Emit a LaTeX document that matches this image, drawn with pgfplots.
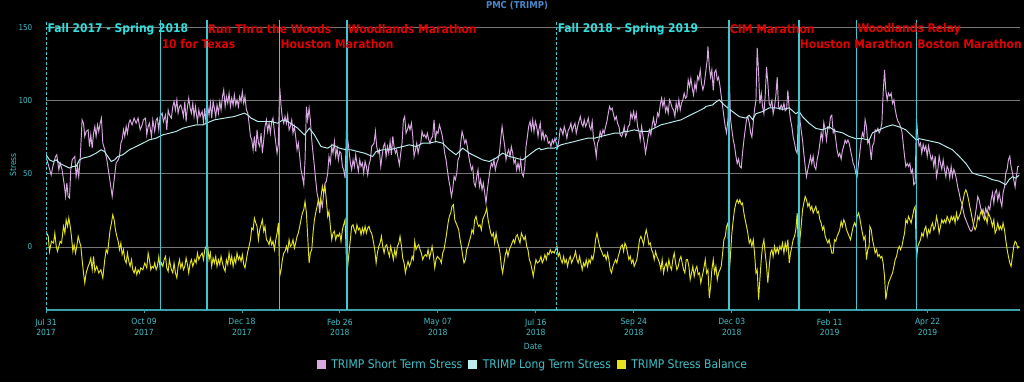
\documentclass[border=0pt]{standalone}
\usepackage{fontspec}
\setmainfont{DejaVu Sans Condensed}[BoldFont={DejaVu Sans Condensed Bold}]
\usepackage{pgfplots}
\pgfplotsset{compat=1.18}
\usetikzlibrary{backgrounds}
\definecolor{sts}{HTML}{D8A8E0}
\definecolor{lts}{HTML}{BCEEF0}
\definecolor{tsb}{HTML}{E2E21E}
\definecolor{vline}{HTML}{40C8D0}
\definecolor{ticktxt}{HTML}{40C0C8}
\definecolor{gridc}{HTML}{767676}
\definecolor{racered}{HTML}{E00000}
\definecolor{seasoncyan}{HTML}{30E0E0}
\definecolor{titleblue}{HTML}{4A88C8}

\pgfplotstableread{
x y
0 61.8
3.7 49.3
4.9 55
6.8 61.8
7.7 63
9.2 52.7
10.1 57.3
11.5 52.7
13.2 41.4
14 34.5
14.9 43.6
15.8 34.5
16.8 33.4
17.7 52.7
18.7 59.5
19.6 60.7
20.6 61.8
21.5 48.2
22.5 55
23.4 48.2
24.4 59.5
25.8 86.8
26.8 84.5
27.7 75.5
28.7 78.9
30.1 80
31.1 68.6
32 76.6
33 67.5
34 77.7
34.9 82.3
35.8 75.5
36.8 83.4
37.7 78.9
38.7 84.5
39.6 88
40.6 70.9
42 66.4
43.5 59.5
44.9 50.5
46.3 41.4
47.3 34.5
48.7 45.9
50.1 57.3
51.6 59.5
52.5 61.8
53.5 70.9
54.4 73.2
55.4 80
56.3 75.5
57.3 82.3
58.2 77.7
59.2 84.5
60.1 86.8
61.5 83.4
63 88
64.4 84.5
65.8 88
67.3 80
68.7 83.4
69.6 86.8
71.1 88
72 76.6
73 82.3
73.9 84.5
75.4 75.5
76.3 86.8
77.7 78.9
78.7 86.8
79.6 88
80.6 80
81.5 89.1
83 91.4
83.9 85.7
85.4 90.2
86.3 80
87.3 93.6
88.2 90.2
89.6 88
90.6 95.9
91.5 99.3
92.5 93.6
93.5 100.5
94.4 91.4
95.4 95.9
96.3 97
97.3 93.6
98.2 89.1
99.2 99.3
100.1 85.7
101.1 95.9
102 101.6
103 94.8
103.9 91.4
104.9 98.2
105.8 89.1
106.8 95.9
108.2 85.7
109.2 93.6
110.1 89.1
111.6 92.5
112.5 85.7
113.5 94.8
114.4 83.4
115.6 95.9
116.5 90.2
117.5 98.2
118.4 88
119.4 99.3
120.3 94.8
121.3 89.1
122.2 97
123.2 91.4
124.2 99.3
125.1 93.6
126.1 102.7
127 107.3
128 95.9
128.9 102.7
129.9 98.2
130.8 105
131.8 95.9
132.7 101.6
133.7 97
134.6 103.9
135.6 97
136.5 100.5
137.5 95.9
138.4 102.7
139.4 99.3
140.3 106.1
141.3 98.2
142.2 102.7
143.2 93.6
144.2 91.4
145.1 84.5
146.1 75.5
147 73.2
148 66.4
148.9 75.5
149.9 65.2
150.8 80
151.8 70.9
152.7 68.6
153.7 77.7
154.6 64.1
155.6 73.2
156.5 82.3
157.5 86.8
158.4 78.9
159.4 84.5
160.3 77.7
161.3 85.7
162.2 88
163.2 78.9
164.2 70.9
165.1 64.1
166 70
167 109
168 95.9
168.9 88
169.9 84.5
170.8 89.1
171.8 84.5
172.7 90.2
173.7 80
174.6 82.3
175.6 86.8
176.5 77.7
177.5 82.3
178.4 75.5
179.4 66.4
180.3 70.9
181.3 61.8
182.2 52.7
183.2 48.2
184.2 42.5
185.1 59.5
186.1 95.9
187 86.8
188 94.8
188.9 86.8
189.9 73.2
190.8 64.1
191.8 55
192.7 45.9
193.7 36.8
194.6 32.3
195.6 23.2
196.5 32.3
197.5 27.7
198.4 36.8
199.4 43.6
200.3 44.8
201.3 50.5
202.2 61.8
203.2 57.3
204.2 68.6
205.1 64.1
206.1 72
207 61.8
208 67.5
208.9 59.5
209.9 65.2
210.8 64.1
211.8 55
212.7 52.7
213.7 47
215 89
215.6 73.2
216.5 66.4
217.5 57.3
218.4 52.7
219.4 59.5
220.3 55
221.3 63
222.2 57.3
223.2 51.6
224.2 59.5
225.1 55
226.1 57.3
227 50.5
228 58.4
228.9 55
229.9 49.3
230.8 56.1
231.8 59.5
232.7 68.6
234.4 70.9
235.4 78.9
236.3 68.6
237.3 64.1
238.2 66.4
239.2 55
240.1 61.8
241.1 68.6
242.1 70.9
243 61.8
244 68.6
244.9 64.1
245.9 72
246.8 63
247.8 75.5
248.7 68.6
249.7 64.1
250.6 66.4
251.6 60.7
252.5 56.1
253.5 64.1
254.4 70.9
255.4 86.8
256.3 89.1
257.3 77.7
258.2 80
259.2 83.4
260.1 80
261.1 84.5
262.1 75.5
263 61.8
264 66.4
264.9 70.9
265.9 64.1
266.8 68.6
267.8 70.9
268.7 78.9
269.7 75.5
270.6 76.6
271.6 74.3
272.5 77.7
273.5 73.2
274.4 70.9
275.4 74.3
276.3 75.5
277.3 86.8
278.2 73.2
279.2 78.9
280.1 77.7
281.1 83.4
282.1 80
283 76.6
284 70.9
284.9 64.1
285.9 59.5
286.8 52.7
287.8 45.9
288.7 41.4
289.7 34.5
290.6 39.1
291.6 48.2
292.5 45.9
293.5 50.5
294.4 59.5
295.4 61.8
296.3 70.9
297.3 78.9
298.2 75.5
299.2 70.9
300.1 73.2
301.1 68.6
302.1 61.8
303 57.3
304 52.7
304.9 55
305.9 43.6
306.8 41.4
307.8 48.2
308.7 52.7
309.7 41.4
310.6 45.9
311.6 39.1
312.5 43.6
313.5 36.8
314.4 30
315.4 39.1
316.3 45.9
317.3 52.7
318.2 57.3
319.2 55
320.1 59.5
321.1 52.7
322.1 57.3
323 59.5
324 64.1
324.9 73.2
325.9 82.3
326.8 75.5
327.8 68.6
328.7 59.5
329.7 64.1
330.6 66.4
331.6 61.8
332.5 68.6
333.5 64.1
334.4 57.3
335.4 59.5
336.3 52.7
337.3 57.3
338.2 52.7
339.2 59.5
340.1 50.5
341.1 48.2
342.1 55
343 68.6
344 75.5
344.9 82.3
345.9 85.7
346.8 80
347.8 86.8
348.7 78.9
349.7 85.7
350.6 82.3
351.6 75.5
352.2 80
353.2 84.5
354.1 74.3
355.1 78.9
356 73.2
357 76.6
357.9 75.5
358.9 70.9
359.9 72
360.8 68.6
361.8 73.2
362.7 70.9
363.7 74.3
364.6 70.9
365.6 67.5
366.5 73.2
367.5 81.1
368.4 80
369.4 76.6
370.3 82.3
371.3 78.9
372.2 74.3
373.2 80
374.1 81.1
375.1 84.5
376 78.9
377 82.3
378 84.5
378.9 77.7
379.9 82.3
380.8 85.7
381.8 89.1
382.7 84.5
383.7 82.3
384.6 86.8
385.6 82.3
386.5 84.5
387.5 88
388.4 82.3
389.4 80
390.3 85.7
391.3 73.2
392.2 69.8
393.2 61.8
394.1 70.9
395.1 73.2
396 78.9
397 75.5
398 80
398.9 77.7
399.9 82.3
400.8 85.7
401.8 91.4
402.7 95.9
403.7 93.6
404.6 94.8
405.6 90.2
406.5 86.8
407.5 89.1
408.4 84.5
409.4 82.3
410.3 76.6
411.3 75.5
412.2 77.7
413.2 82.3
414.1 75.5
415.1 77.7
416 82.3
417 83.4
417.9 91.4
418.9 88
419.9 92.5
420.8 86.8
421.8 91.4
422.7 82.3
423.7 78.9
424.6 73.2
425.6 82.3
426.5 76.6
427.5 70.9
428.4 64.1
429.4 69.8
430.3 75.5
431.3 80
432.2 76.6
433.2 83.4
434.1 88
435.1 82.3
436 84.5
437 91.4
437.9 89.1
438.9 97
439.9 101.6
440.8 95.9
441.8 100.5
442.7 92.5
443.7 95.9
444.6 91.4
445.6 100.5
446.5 98.2
447.5 94.8
448.4 93.6
449.4 89.1
450.3 98.2
451.3 93.6
452.2 100.5
453.2 93.6
454.1 98.2
455.1 100.5
456 105
457 101.6
457.9 102.7
458.9 114.1
459.9 109.5
460.8 115.2
461.8 108.4
462.7 103.9
463.7 111.8
464.6 107.3
465.6 116.4
466.5 114.1
467.5 120.9
468.4 111.8
469.4 107.3
470.3 110.7
471.6 121
472.5 128
473 137
474 123
474.9 116
475.8 121
476.8 107
477.7 119
478.7 121
479.7 114
480.6 116
481.6 110
482.5 103
483.5 96
484.4 89
485.4 82
486.3 78
487.3 87
488 123
489.2 87
490.1 80
491.1 73
492 69
493 62
493.9 57
494.9 60
495.8 55
496.8 54
497.7 64
498.7 73
499.6 80
500.6 87
501.5 89
502.5 85
503.5 78
504.4 75
505.4 85
506.3 94
507.3 100
508.2 136
509.2 119
510.1 98
511.1 105
512 96
513 91
513.9 103
514.9 123
515.8 112
516.8 98
517.7 96
518.7 100
519.6 91
520.6 96
521.5 103
522.5 116
523.4 96
524.4 94
525.3 97
526.3 94
527.3 98
528.2 93
529.2 94
530.1 107
531.1 94
532 87
533 82
533.9 75
534.9 71
535.8 66
536.8 64
538 107
538.7 87
539.6 80
540.6 73
541.5 64
542.5 55
543.4 48
544.4 53
545.3 57
546.3 62
547.2 57
548.2 62
549.1 55
550.1 53
551.1 60
552 64
553 71
553.9 78
554.9 73
555.8 85
556.8 80
557.7 73
558.7 82
559.6 81
560.6 89
561.5 90
562.5 78
563.4 80
564.4 73
565.3 66
566.3 62
567.2 64
568.2 60
569.1 66
570.1 69
571 73
572 71
573 73
573.9 71
574.9 66
575.8 62
576.8 57
577.7 55
578.7 50
579.6 48
580.6 57
581.5 64
582.5 73
583.4 78
584.4 75
585.3 87
586.3 82
587.2 71
588.2 73
588.7 69
589.7 59.5
590.6 69
591.6 71
592.5 80
593.5 79
594.4 81
595.4 78
596.3 80
597.3 84.5
598.2 105
599.2 121
600.1 107
601.1 100.5
602 105
603 103
603.9 105
604.9 98
605.9 100.5
606.8 94
607.8 89
608.7 86
609.7 84.5
610.6 82
611.6 79
612.5 71
613.5 62
614.4 55
615.4 57
616.3 55
617.3 57
618.2 50.5
619.2 53
620.1 42.5
621.1 43.6
622 88
623 75.5
623.9 69
624.9 71
625.8 64
626.8 70
627.7 66
628.7 69
629.7 62
630.6 69
631.6 64
632.5 59.5
633.5 62
634.4 55
635.4 62
636.3 48
637.3 53
638.2 62
639.2 57
640.1 53
641.1 59.5
642 53
643 48
643.9 55
644.9 53
645.8 47
646.8 55
647.7 48
648.7 53
649.6 50.5
650.6 46
651.5 41
652.5 37
653.5 32
654.4 30
655.4 25
656.3 21
657.3 18.6
658.2 16.4
659.2 14
660.1 11.8
661.1 10.7
662 11.8
663 16.4
663.9 21
664.9 27.7
665.8 34.5
666.8 32
667.7 27.7
668.7 23
669.6 25.5
670.6 21
671.5 26.6
672.5 23
673.4 27.7
674.4 25.5
675.3 32
676.3 37
677.3 30
678.2 37
679.2 39
680.1 32
681.1 37
682 32
683 27.7
683.9 37
684.9 41
685.8 50.5
686.8 53
687.7 59.5
688.7 62
689.6 55
690.6 50.5
691.5 46
692.5 41
693.4 48
694.4 55
695.3 55
}\stsdata

\pgfplotstableread{
x y
0 63
2.5 59.5
4.9 58.4
7.3 59.5
9.6 57.3
12 56.1
14.4 55
16.8 53.9
19.2 55
21.5 55
23.9 59.5
26.3 60.7
31.1 61.8
35.8 64.1
39.4 66.4
41.8 65.2
44.2 61.8
46.6 58.4
49 59.5
51.3 61.8
54.9 63
59.6 66.4
64.4 68.6
69.2 70.9
73.9 73.2
78.7 74.3
83.5 76.6
88.2 77.7
93 78.9
97.7 81.1
102.5 82.3
107.3 83.4
112 83.4
114.4 84.5
120.3 86.8
127.5 88
134.6 89.1
141.8 91.4
144.2 90.2
146.5 88
151.3 85.7
156.1 85.7
160.8 85.7
165.6 84.5
169.2 86.8
172.7 85.7
176.3 83.4
179.9 81.1
184.6 76.6
188.2 81.1
191.8 76.6
196.5 68.6
201.3 67.5
204.9 69.8
209.6 67.5
214.4 66.4
218 66.4
222.7 65.2
227.5 64.1
233.4 61.8
235.9 65.2
240.6 66.4
245.4 66.4
250.1 67.5
254.9 68.6
259.7 69.8
264.4 68.6
269.2 70.9
274 70.9
278.7 72
283.5 70.9
288.2 66.4
293 63
297.8 67.5
302.5 64.1
307.3 61.8
312 59.5
316.8 58.4
321.6 60.7
326.3 64.1
331.1 61.8
335.9 60.7
340.6 59.5
345.4 63
350.1 66.4
352.5 67.5
353.7 66.4
358.4 67.5
363.2 67.5
365.1 68.2
368 69.8
372.7 70.9
377.5 72
382.2 73.2
387 74.3
391.8 74.3
396.5 75.5
401.3 76.6
406 77.7
410.8 77.7
413.2 78.9
415.6 78.9
420.3 80
425.1 78.9
429.9 78.9
434.6 81.1
439.4 83.4
444.1 84.5
448.9 85.7
453.7 86.8
458.4 89.1
463.2 91.4
467.9 93.6
470.3 94.8
471.6 96
476.3 97
478.7 99
481.1 100.5
483.5 98
485.8 96
490.6 92.5
495.4 89
500.1 88
502.5 90
504.9 87
507.3 91
512 92.5
516.8 95
521.5 95
526.3 94
531.1 95
535.8 91
538.2 92.5
540.6 89
545.3 84.5
550.1 81
554.9 80
559.6 82
564.4 79
569.1 78
573.9 75.5
578.7 74
583.4 74
588.2 73
590.6 78
595.4 80
600.1 82
604.9 83.4
609.7 82
614.4 80
619.2 75.5
622 73
623.9 74
628.7 73
633.5 72
638.2 71
643 68.6
647.7 66.4
652.5 62
657.3 57
662 50.5
666.8 49
671.5 48
676.3 46
681.1 45
685.8 42.5
688.2 46
690.6 48
692.9 47
695.3 49
}\ltsdata

\pgfplotstableread{
x y
0 10.7
1.6 7.3
2.5 -3
3.9 3.9
5.4 2.7
6.3 9.5
7.3 0.5
8.2 -3
9.2 0.5
10.1 3.9
11.1 2.7
12.5 14.1
13.5 9.5
14.4 18.6
15.4 14.1
16.3 19.8
17.3 14.1
18.2 7.3
19.2 -3
20.1 1.6
21.1 -4.1
22 0.5
23 7.3
23.9 3.9
24.9 0.5
25.8 -8.6
26.8 -17.7
27.7 -24.5
28.7 -17.7
30.1 -13.2
31.1 -10.9
32 -7.5
33 -15.5
34 -6.4
34.9 -16.6
36.3 -13.2
37.7 -17.7
39.2 -15.5
40.6 -21.1
42 -8.6
43 -1.8
44 -4.1
44.9 3.9
45.8 11.8
46.8 16.4
47.7 22
48.7 18.6
49.6 11.8
50.6 7.3
51.6 3.9
52.5 -1.8
53.5 2.7
54.4 -5.2
55.4 -1.8
56.3 -8.6
57.3 -10.9
58.2 -4.1
59.2 -9.8
60.1 -13.2
61.1 -8.6
62 -15.5
63 -17.7
63.9 -14.3
64.9 -18.9
65.8 -15.5
66.8 -17.7
67.7 -14.3
69.2 -15.5
70.6 -10.9
72 -14.3
73 -4.1
73.9 -8.6
74.9 -15.5
75.8 -13.2
76.8 -14.3
77.7 -10.9
78.7 -15.5
79.6 -13.2
80.6 -6.4
81.5 -14.3
82.5 -10.9
83.5 -13.2
84.4 -8.6
85.4 -6.4
86.3 -14.3
87.3 -16.6
88.2 -8.6
89.6 -15.5
90.6 -17.7
91.5 -10.9
92.5 -17.7
93.5 -21.1
94.4 -13.2
95.4 -8.6
96.3 -14.3
97.3 -10.9
98.2 -15.5
99.2 -13.2
100.1 -7.5
101.1 -12
102 -17.7
103 -10.9
103.9 -8.6
104.9 -13.2
106.3 -8.6
107.3 -10.9
108.2 -4.1
109.2 -8.6
110.1 -6.4
111.6 -4.1
112.5 -8.6
113.5 -1.8
114.4 0.5
115.6 0.5
116.5 -8.6
117.5 -4.1
118.4 -13.2
119.4 -7.5
120.3 -10.9
121.3 -6.4
122.2 -13.2
123.2 -8.6
124.2 -12
125.1 -6.4
126.1 -10.9
127 -14.3
128 -16.6
128.9 -8.6
129.9 -12
130.8 -4.1
131.8 -10.9
132.7 -6.4
133.7 -13.2
134.6 -7.5
135.6 -10.9
136.5 -4.1
137.5 -8.6
138.4 -6.4
139.4 -9.8
140.3 -5.2
141.3 -12
142.2 -14.3
143.2 -8.6
144.2 -3
145.1 0.5
146.1 5
147 13
148 11.8
148.9 19.8
149.9 16.4
150.8 14.1
151.8 5
152.7 11.8
153.7 15.2
154.6 18.6
155.6 10.7
156.5 14.1
157.5 5
158.4 3.9
159.4 1.6
160.3 6.1
161.3 1.6
162.2 3.9
163.2 -1.8
164.2 5
165.1 9.5
166.1 16.4
167 -20
168 -15.5
168.9 -8.6
169.9 -4.1
170.8 -3
171.8 0.5
172.7 -3
173.7 5
174.6 0.5
175.6 1.6
176.5 5
177.5 -0.7
178.4 2.7
179.4 7.3
180.3 9.5
181.3 14.1
182.2 18.6
183.2 23.2
184.2 25.5
185.1 31.1
186.1 23.2
187 7.3
188 -10.9
188.9 -4.1
189.9 -1.8
190.8 9.5
191.8 18.6
192.7 23.2
193.7 27.7
194.6 32.3
195.6 27.7
196.5 34.5
197.5 41.4
198.4 36.8
199.4 41.4
200.3 32.3
201.3 20.9
202.2 24.3
203.2 14.1
204.2 5
205.1 9.5
206.1 10.7
207 5
208 8.4
208.9 7.3
209.9 9.5
210.8 3.9
211.8 11.8
212.7 15.2
213.7 18.6
215 -17.7
215.6 -13.2
216.5 -4.1
217.5 5
218.4 14.1
219.4 15.2
220.3 11.8
221.3 9.5
222.2 15.2
223.2 11.8
224.2 13
225.1 8.4
226.1 13
227 9.5
228 14.1
228.9 9.5
229.9 13
230.8 14.1
231.8 10.7
232.7 9.5
233.7 5
234.9 -1.8
235.9 -10.9
236.8 -4.1
237.8 0.5
238.7 2.7
239.7 7.3
240.6 0.5
241.6 -4.1
242.5 0.5
243.5 1.6
244.4 -3
245.4 -6.4
246.3 0.5
247.3 -4.1
248.2 -8.6
249.2 -1.8
250.1 -6.4
251.1 0.5
252.1 2.7
253 7.3
254 0.5
254.9 -7.5
255.9 -10.9
256.8 -17.7
257.8 -13.2
258.7 -9.8
259.7 -13.2
260.6 -10.9
261.6 -6.4
262.5 -8.6
263.5 3.9
264.4 -1.8
265.4 0.5
266.3 1.6
267.3 -1.8
268.2 -4.1
269.2 -8.6
270.1 -6.4
271.1 -5.2
272.1 -6.4
273 -1.8
274 -7.5
274.9 -4.1
275.9 0.5
276.8 -5.2
277.8 -14.3
278.7 -8.6
279.7 -6.4
280.6 -7.5
281.6 -8.6
282.5 -10.9
283.5 -4.1
284.4 -1.8
285.4 3.9
286.3 9.5
287.3 16.4
288.2 20.9
289.2 23.2
290.1 27.7
291.1 28.9
292.1 18.6
293 16.4
294 14.1
294.9 11.8
295.9 5
296.8 0.5
297.8 -6.4
298.7 -10.9
299.7 -8.6
300.6 -1.8
301.6 0.5
302.5 3.9
303.5 7.3
304.4 11.8
305.4 9.5
306.3 18.6
307.3 20.9
308.2 16.4
309.2 14.1
310.1 15.2
311.1 11.8
312 18.6
313 20.9
314 23.2
314.9 26.6
315.9 18.6
316.8 14.1
317.8 9.5
318.7 7.3
319.7 9.5
320.6 2.7
321.6 9.5
322.5 3.9
323.5 0.5
324.4 -4.1
325.4 -13.2
326.3 -17.7
327.3 -10.9
328.2 -5.2
329.2 -1.8
330.1 -6.4
331.1 -1.8
332.1 0.5
333 2.7
334 5
334.9 2.7
335.9 7.3
336.8 8.4
337.8 5
338.7 2.7
339.7 9.5
340.6 7.3
341.6 5
342.5 7.3
343.5 0.5
344.4 -1.8
345.4 -8.6
346.3 -10.9
347.3 -15.5
348.2 -20
349.2 -13.2
350.1 -8.6
351.1 -10.9
352.5 -9.8
353.7 -6.4
354.6 -10.9
355.6 -8.6
356.5 -5.2
357.5 -8.6
358.4 -4.1
359.4 -5.2
360.3 -1.8
361.3 -4.1
362.2 -3
363.2 -4.1
364.1 -1.8
365.1 0.5
366 -6.4
367 -4.1
367.9 -8.6
368.9 -10.9
369.9 -6.4
370.8 -10.9
371.8 -8.6
372.7 -13.2
373.7 -8.6
374.6 -6.4
375.6 -10.9
376.5 -8.6
377.5 -6.4
378.4 -3
379.4 -8.6
380.3 -10.9
381.3 -6.4
382.2 -10.9
383.2 -15.5
384.1 -10.9
385.1 -13.2
386 -8.6
387 -13.2
388 -8.6
388.9 -10.9
389.9 -6.4
390.8 -8.6
391.8 -3
392.7 5
393.7 9.5
394.6 5
395.6 0.5
396.5 -1.8
397.5 -4.1
398.4 -6.4
399.4 -5.2
400.3 -8.6
401.3 -4.1
402.2 -8.6
403.2 -15.5
404.1 -17.7
405.1 -13.2
406 -10.9
407 -8.6
407.9 -10.9
408.9 -6.4
409.9 -3
410.8 0.5
411.8 1.6
412.7 -3
413.7 2.7
414.6 0.5
415.6 -4.1
416.5 -8.6
417.5 -6.4
418.4 -10.9
419.4 -8.6
420.3 -13.2
421.3 -10.9
422.2 -8.6
423.2 -1.8
424.1 5
425.1 7.3
426 5
427 1.6
427.9 7.3
428.9 11.8
429.9 7.3
430.8 1.6
431.8 2.7
432.7 -1.8
433.7 -4.1
434.6 -8.6
435.6 -3
436.5 -6.4
437.5 -8.6
438.4 -10.9
439.4 -15.5
440.3 -8.6
441.3 -17.7
442.2 -13.2
443.2 -10.9
444.1 -15.5
445.1 -8.6
446 -13.2
447 -15.5
447.9 -8.6
448.9 -4.1
449.9 -10.9
450.8 -15.5
451.8 -13.2
452.7 -8.6
453.7 -6.4
454.6 -10.9
455.6 -15.5
456.5 -17.7
457.5 -8.6
458.4 -8.6
459.4 -13.2
460.3 -22.3
461.3 -17.7
462.2 -13.2
463.2 -20
464.1 -15.5
465.1 -13.2
466 -18.9
467 -17.7
467.9 -24.5
468.9 -20
469.9 -15.5
471.1 -8.6
472 -17.7
473 -15.5
474 -34.8
474.9 -26.8
475.8 -15.5
476.8 -8.6
477.7 -17.7
478.7 -13.2
479.7 -22.3
480.6 -17.7
481.6 -15.5
482.5 -13.2
483.5 -4.1
484.4 5
485.4 7.3
486.3 14.1
487.3 16.4
488 -22.3
489.2 -4.1
490.1 9.5
491.1 18.6
492 25.5
493 30
493.9 32.3
494.9 30
495.8 32.3
496.8 28.9
497.7 30
498.7 23.2
499.6 18.6
500.6 14.1
501.5 9.5
502.5 2.7
503.5 5
504.4 0.5
505.4 5
506.3 -4.1
507.3 -17.7
508.2 -15.5
509.2 -35.9
510.1 -22.3
511.1 -8.6
512 0.5
513 5
513.9 -4.1
514.9 -13.2
515.8 -24.5
516.8 -13.2
517.7 -4.1
518.7 -1.8
519.6 -6.4
520.6 0.5
521.5 -4.1
522.5 -0.7
523.4 -4.1
524.4 0.5
525.3 -1.8
526.3 2.7
527.3 -4.1
528.2 2.7
529.2 -1.8
530.1 5
531.1 -10.9
532 -4.1
533 0.5
533.9 5
534.9 7.3
535.8 11.8
536.8 23.2
538 -13.2
538.7 5
539.6 14.1
540.6 25.5
541.5 30
542.5 34.5
543.4 32.3
544.4 27.7
545.3 30
546.3 25.5
547.2 27.7
548.2 23.2
549.1 25.5
550.1 27.7
551.1 23.2
552 24.3
553 18.6
553.9 16.4
554.9 11.8
555.8 14.1
556.8 7.3
557.7 5
558.7 2.7
559.6 5
560.6 0.5
561.5 -4.1
562.5 -4.1
563.4 5
564.4 3.9
565.3 7.3
566.3 9.5
567.2 11.8
568.2 17.5
569.1 14.1
570.1 18.6
571 16.4
572 11.8
573 9.5
573.9 7.3
574.9 5
575.8 9.5
576.8 14.1
577.7 16.4
578.7 14.1
579.6 20.9
580.6 23.2
581.5 19.8
582.5 14.1
583.4 9.5
584.4 5
585.3 7.3
586.3 -8.6
587.2 -1.8
588.2 0.5
588.7 14.1
589.7 11.8
590.6 5
591.6 0.5
592.5 -4.1
593.5 -1.8
594.4 -6.4
595.4 -5.2
596.3 -7.5
597.3 -6.4
598.2 -10.9
599.2 -20
600.1 -35.9
601.1 -29.1
602 -24.5
603 -22.3
603.9 -20
604.9 -17.7
605.9 -13.2
606.8 -8.6
607.8 -6.4
608.7 -1.8
609.7 0.5
610.6 -1.8
611.6 0.5
612.5 5
613.5 9.5
614.4 18.6
615.4 16.4
616.3 20.9
617.3 18.6
618.2 16.4
619.2 20.9
620.1 25.5
621.1 27.7
622 -8.6
623 0.5
623.9 2.7
624.9 5
625.8 9.5
626.8 7.3
627.7 11.8
628.7 14.1
629.7 7.3
630.6 11.8
631.6 9.5
632.5 14.1
633.5 16.4
634.4 11.8
635.4 14.1
636.3 20.9
637.3 16.4
638.2 9.5
639.2 14.1
640.1 18.6
641.1 16.4
642 18.6
643 16.4
643.9 20.9
644.9 18.6
645.8 16.4
646.8 20.9
647.7 18.6
648.7 20.9
649.6 16.4
650.6 23.2
651.5 18.6
652.5 20.9
653.5 23.2
654.4 27.7
655.4 32.3
656.3 36.8
657.3 39.1
658.2 36.8
659.2 32.3
660.1 27.7
661.1 23.2
662 18.6
663 14.1
663.9 11.8
664.9 14.1
665.8 20.9
666.8 18.6
667.7 23.2
668.7 25.5
669.6 20.9
670.6 18.6
671.5 20.9
672.5 16.4
673.4 23.2
674.4 20.9
675.3 18.6
676.3 14.1
677.3 18.6
678.2 9.5
679.2 11.8
680.1 16.4
681.1 11.8
682 14.1
683 11.8
683.9 16.4
684.9 11.8
685.8 5
686.8 -1.8
687.7 -6.4
688.7 -10.9
689.6 -13.2
690.6 -6.4
691.5 0.5
692.5 3.9
693.4 2.7
694.4 -0.7
695.3 0.5
}\tsbdata

\begin{document}
\begin{tikzpicture}
\begin{axis}[
  name=ax,
  scale only axis,
  width=974bp, height=290bp,
  xmin=0, xmax=696, ymin=-43, ymax=155,
  clip mode=individual,
  axis x line*=bottom,
  axis y line*=left,
  x axis line style={-, draw=ticktxt!85!black, line width=1.2bp},
  y axis line style={draw=none},
  xtick={0,70,140,210,280,350,420,490,560,630},
  xticklabels={{Jul 31\\2017},{Oct 09\\2017},{Dec 18\\2017},{Feb 26\\2018},{May 07\\2018},{Jul 16\\2018},{Sep 24\\2018},{Dec 03\\2018},{Feb 11\\2019},{Apr 22\\2019}},
  xticklabel style={align=center, font=\fontsize{8.5}{10.5}\selectfont, text=ticktxt, inner sep=0pt, yshift=-6bp},
  ytick={0,50,100,150},
  yticklabel style={font=\fontsize{8}{9}\selectfont, text=ticktxt, inner sep=0pt, xshift=-11bp},
  /pgf/number format/assume math mode=true,
  tick align=outside,
  major tick length=2.5bp,
  xtick style={draw=ticktxt!85!black, line width=0.8bp},
  ytick style={draw=none},
  ymajorgrids,
  major grid style={draw=gridc, line width=0.7bp},
  xlabel={Date},
  xlabel style={at={(axis description cs:0.5,0)}, anchor=center, yshift=-36bp, font=\fontsize{8.5}{10}\selectfont, text=ticktxt},
  ylabel={Stress},
  ylabel style={at={(axis description cs:0,0.5)}, anchor=center, yshift=33bp, font=\fontsize{8.5}{10}\selectfont, text=ticktxt},
  title={PMC (TRIMP)},
  title style={at={(axis description cs:0.5,1)}, anchor=center, xshift=-16bp, yshift=8bp, font=\bfseries\fontsize{9.5}{11}\selectfont, text=titleblue},
  legend columns=3,
  legend style={at={(0.5,0)}, anchor=center, yshift=-55bp, draw=none, fill=none, text=ticktxt, font=\fontsize{12}{14}\selectfont, /tikz/every even column/.append style={column sep=4bp}},
  legend image code/.code={\fill (0bp,-3.5bp) rectangle (8bp,4.5bp); \path[draw=none,fill=none] (0bp,0bp) -- (12bp,0bp);},
]
\addplot[sts, line width=0.95bp] table[x=x,y=y] {\stsdata};
\addlegendentry{TRIMP Short Term Stress}
\addplot[lts, line width=0.95bp] table[x=x,y=y] {\ltsdata};
\addlegendentry{TRIMP Long Term Stress}
\addplot[tsb, line width=0.95bp] table[x=x,y=y] {\tsbdata};
\addlegendentry{TRIMP Stress Balance}

% season markers (dashed) and race markers (solid)
\addplot[vline, line width=1.1bp, dash pattern=on 3bp off 2bp, forget plot] coordinates {(0.5,-43) (0.5,155)};
\addplot[vline, line width=1.1bp, dash pattern=on 3bp off 2bp, forget plot] coordinates {(365,-43) (365,155)};
\addplot[vline, line width=1.3bp, forget plot] coordinates {(82,-43) (82,155)};
\addplot[vline, line width=1.3bp, forget plot] coordinates {(115,-43) (115,155)};
\addplot[vline, line width=1.3bp, forget plot] coordinates {(167,-43) (167,155)};
\addplot[vline, line width=1.3bp, forget plot] coordinates {(215,-43) (215,155)};
\addplot[vline, line width=1.3bp, forget plot] coordinates {(488,-43) (488,155)};
\addplot[vline, line width=1.3bp, forget plot] coordinates {(538,-43) (538,155)};
\addplot[vline, line width=1.3bp, forget plot] coordinates {(579,-43) (579,155)};
\addplot[vline, line width=1.3bp, forget plot] coordinates {(622,-43) (622,155)};

\tikzset{ann/.style={anchor=west, inner sep=0pt, xshift=0.8bp, font=\bfseries\fontsize{12}{12}\selectfont}}
\node[ann, text=seasoncyan] at (axis cs:0.5,148.6) {Fall 2017 - Spring 2018};
\node[ann, text=racered] at (axis cs:82,138.4) {10 for Texas};
\node[ann, text=racered] at (axis cs:115,148.6) {Run Thru the Woods};
\node[ann, text=racered] at (axis cs:167,138.4) {Houston Marathon};
\node[ann, text=racered] at (axis cs:215,148.6) {Woodlands Marathon};
\node[ann, text=seasoncyan] at (axis cs:365,148.6) {Fall 2018 - Spring 2019};
\node[ann, text=racered] at (axis cs:488,148.6) {CIM Marathon};
\node[ann, text=racered] at (axis cs:538,138.4) {Houston Marathon};
\node[ann, text=racered] at (axis cs:579,148.6) {Woodlands Relay};
\node[ann, text=racered] at (axis cs:622,138.4) {Boston Marathon};
\end{axis}
\pgfresetboundingbox
\useasboundingbox ([xshift=-46bp,yshift=-72bp]ax.south west) rectangle ([xshift=4bp,yshift=20bp]ax.north east);
\begin{scope}[on background layer]
\fill[black] ([xshift=-46bp,yshift=-72bp]ax.south west) rectangle ([xshift=4bp,yshift=20bp]ax.north east);
\end{scope}
\end{tikzpicture}
\end{document}
